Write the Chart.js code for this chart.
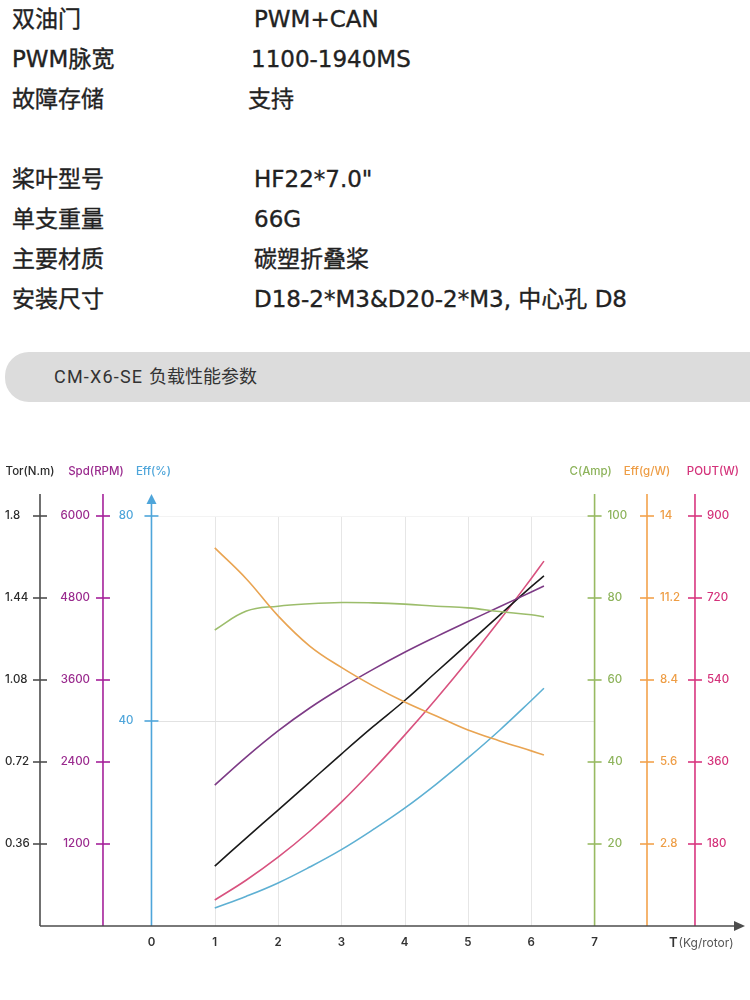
<!DOCTYPE html>
<html lang="zh">
<head>
<meta charset="utf-8">
<title>CM-X6-SE 负载性能参数</title>
<script src="https://cdn.jsdelivr.net/npm/chart.js@4.4.1/dist/chart.umd.min.js"></script>
<style>
  html, body { margin: 0; padding: 0; background: #fff; }
  body { width: 750px; height: 1000px; position: relative; overflow: hidden;
         font-family: "Noto Sans CJK SC", "Noto Sans", sans-serif; color: #222; }
  .row { position: absolute; left: 0; width: 750px; height: 30px; line-height: 30px;
         font-size: 23px; font-family: "DejaVu Sans", "Noto Sans CJK SC", sans-serif;
         -webkit-text-stroke: 0.35px #222; }
  .row span { position: absolute; white-space: nowrap; }
  .row .k { left: 12px; }
  .row .v { left: 254px; }
  .banner { position: absolute; left: 5px; top: 352px; width: 760px; height: 50px;
            background: #dcdcdc; border-radius: 24px 0 0 24px; }
  .banner span { position: absolute; left: 49px; top: 0; line-height: 50px; font-size: 18px;
                 color: #333; font-family: Roboto, "Noto Sans CJK SC", sans-serif; white-space: nowrap; }
  .banner b { font-weight: 400; letter-spacing: 1.2px; }
  #perf { position: absolute; left: 0; top: 430px; }
</style>
</head>
<body>

<div class="row" style="top:4px"><span class="k">双油门</span><span class="v">PWM+CAN</span></div>
<div class="row" style="top:44px"><span class="k">PWM脉宽</span><span class="v" style="left:251px">1100-1940MS</span></div>
<div class="row" style="top:84px"><span class="k">故障存储</span><span class="v" style="left:248px">支持</span></div>
<div class="row" style="top:164px"><span class="k">桨叶型号</span><span class="v">HF22*7.0"</span></div>
<div class="row" style="top:204px"><span class="k">单支重量</span><span class="v">66G</span></div>
<div class="row" style="top:244px"><span class="k">主要材质</span><span class="v">碳塑折叠桨</span></div>
<div class="row" style="top:284px"><span class="k">安装尺寸</span><span class="v">D18-2*M3&amp;D20-2*M3, 中心孔 D8</span></div>

<div class="banner"><span><b>CM-X6-SE </b>负载性能参数</span></div>

<canvas id="perf" width="750" height="570"></canvas>

<script>
// valeurs (poussée en kg par rotor)
const thrust  = [1, 1.5, 2, 2.5, 3, 3.5, 4, 4.5, 5, 5.5, 6, 6.2];
const torque  = [0.263, 0.387, 0.509, 0.632, 0.755, 0.875, 0.99, 1.115, 1.24, 1.365, 1.49, 1.537];
const speed   = [2063, 2475, 2855, 3190, 3485, 3755, 4005, 4235, 4455, 4672, 4888, 4975];
const effPct  = [3.5, 5.8, 8.4, 11.5, 14.9, 18.8, 23.0, 27.7, 32.8, 38.2, 44.0, 46.4];
const current = [72.2, 76.8, 78.0, 78.6, 78.9, 78.8, 78.5, 78.0, 77.6, 76.7, 75.9, 75.4];
const effGW   = [12.91, 11.85, 10.59, 9.56, 8.83, 8.20, 7.65, 7.17, 6.69, 6.32, 5.98, 5.84];
const power   = [57, 101, 151, 208, 272, 343, 419, 499, 583, 671, 763, 801];

// graduations
const thrustTicks = [0, 1, 2, 3, 4, 5, 6, 7];
const torTicks  = [0.36, 0.72, 1.08, 1.44, 1.8];
const spdTicks  = [1200, 2400, 3600, 4800, 6000];
const effTicks  = [40, 80];
const ampTicks  = [20, 40, 60, 80, 100];
const gwTicks   = [2.8, 5.6, 8.4, 11.2, 14];
const poutTicks = [180, 360, 540, 720, 900];

// la zone de tracé monte un peu au-dessus de la dernière graduation
const HEAD = 432 / 410;

// style des axes verticaux (position en unités de poussée)
const axisStyles = [
  { id: 'yTor',  ticks: torTicks,  title: 'Tor(N.m)', at: -1.761, line: '#4d4d4d', text: '#2b2b2b', align: 'left',  dx: -35, tdx: -10 },
  { id: 'ySpd',  ticks: spdTicks,  title: 'Spd(RPM)', at: -0.766, line: '#a5209a', text: '#9a2b8e', align: 'right', dx: -13, tdx: -7 },
  { id: 'yEff',  ticks: effTicks,  title: 'Eff(%)',   at: 0,      line: '#4ea5da', text: '#4ea5da', align: 'right', dx: -18, tdx: 2, arrow: true },
  { id: 'yAmp',  ticks: ampTicks,  title: 'C(Amp)',   at: 7,      line: '#98ba62', text: '#8db35b', align: 'left',  dx: 13,  tdx: -4 },
  { id: 'yGW',   ticks: gwTicks,   title: 'Eff(g/W)', at: 7.828,  line: '#f3a24c', text: '#ee9d45', align: 'left',  dx: 13,  tdx: 0 },
  { id: 'yPout', ticks: poutTicks, title: 'POUT(W)',  at: 8.586,  line: '#d8367f', text: '#d4327a', align: 'left',  dx: 12,  tdx: 18 }
];

const tickFont = '500 11.5px Inter, "Noto Sans", sans-serif';

function series(values) {
  return thrust.map((t, i) => ({ x: t, y: values[i] }));
}

// dessine la grille, les axes et les libellés avec les échelles de Chart.js
const axisDeco = {
  id: 'axisDeco',
  beforeDatasetsDraw(chart) {
    const { ctx, chartArea, scales } = chart;
    const xs = scales.x;
    const yTop = scales.yEff.getPixelForValue(80);
    ctx.save();
    ctx.lineWidth = 1;
    ctx.strokeStyle = '#e6e6e6';
    thrustTicks.filter(t => t > 0 && t < 7).forEach(t => {
      const px = Math.round(xs.getPixelForValue(t)) + 0.5;
      ctx.beginPath();
      ctx.moveTo(px, yTop);
      ctx.lineTo(px, chartArea.bottom);
      ctx.stroke();
    });
    const x0 = xs.getPixelForValue(0) + 7;
    const x7 = xs.getPixelForValue(7);
    ctx.strokeStyle = '#f3f3f3';
    ctx.beginPath();
    ctx.moveTo(x0, Math.round(yTop) + 0.5);
    ctx.lineTo(x7, Math.round(yTop) + 0.5);
    ctx.stroke();
    const y40 = Math.round(scales.yEff.getPixelForValue(40)) + 0.5;
    ctx.strokeStyle = '#e2e2e2';
    ctx.beginPath();
    ctx.moveTo(x0, y40);
    ctx.lineTo(x7, y40);
    ctx.stroke();
    ctx.restore();
  },
  afterDatasetsDraw(chart) {
    const { ctx, chartArea, scales } = chart;
    const xs = scales.x;
    ctx.save();

    axisStyles.forEach(a => {
      const ys = scales[a.id];
      const px = xs.getPixelForValue(a.at);
      ctx.strokeStyle = a.line;
      ctx.lineWidth = 1.6;
      ctx.beginPath();
      ctx.moveTo(px, a.arrow ? chartArea.top + 8 : chartArea.top);
      ctx.lineTo(px, chartArea.bottom);
      ctx.stroke();
      if (a.arrow) {
        ctx.fillStyle = a.line;
        ctx.beginPath();
        ctx.moveTo(px, chartArea.top);
        ctx.lineTo(px - 5, chartArea.top + 10);
        ctx.lineTo(px + 5, chartArea.top + 10);
        ctx.closePath();
        ctx.fill();
      }
      ctx.font = tickFont;
      ctx.fillStyle = a.text;
      ctx.textBaseline = 'middle';
      ctx.textAlign = a.align;
      a.ticks.forEach(v => {
        const py = ys.getPixelForValue(v);
        ctx.beginPath();
        ctx.moveTo(px - 7, py);
        ctx.lineTo(px + 7, py);
        ctx.stroke();
        ctx.fillText(String(v), px + a.dx, py);
      });
      ctx.textAlign = 'center';
      ctx.fillText(a.title, px + a.tdx, chartArea.top - 22);
    });

    // axe horizontal avec flèche
    const yb = chartArea.bottom;
    ctx.strokeStyle = '#4d4d4d';
    ctx.fillStyle = '#4d4d4d';
    ctx.lineWidth = 1.6;
    ctx.beginPath();
    ctx.moveTo(chartArea.left, yb);
    ctx.lineTo(chartArea.right - 2, yb);
    ctx.stroke();
    ctx.beginPath();
    ctx.moveTo(chartArea.right + 4, yb);
    ctx.lineTo(chartArea.right - 7, yb - 5);
    ctx.lineTo(chartArea.right - 7, yb + 5);
    ctx.closePath();
    ctx.fill();

    ctx.font = '600 11.5px Inter, "Noto Sans", sans-serif';
    ctx.fillStyle = '#333';
    ctx.textAlign = 'center';
    ctx.textBaseline = 'middle';
    thrustTicks.forEach(t => {
      ctx.fillText(String(t), xs.getPixelForValue(t), yb + 17);
    });
    ctx.textAlign = 'left';
    ctx.font = '600 13px Inter, "Noto Sans", sans-serif';
    ctx.fillText('T', 669, yb + 17);
    const tw = ctx.measureText('T').width;
    ctx.font = '400 12px Inter, "Noto Sans", sans-serif';
    ctx.fillStyle = '#555';
    ctx.fillText('(Kg/rotor)', 669 + tw + 1, yb + 17);
    ctx.restore();
  }
};

const lineOpts = { borderWidth: 1.6, pointRadius: 0, fill: false, tension: 0.4 };

function yAxis(top) {
  return { type: 'linear', display: false, min: 0, max: top * HEAD };
}

new Chart(document.getElementById('perf'), {
  type: 'line',
  data: {
    datasets: [
      { label: 'Eff(g/W)', data: series(effGW),   yAxisID: 'yGW',   borderColor: '#e9a452', ...lineOpts },
      { label: 'C(Amp)',   data: series(current), yAxisID: 'yAmp',  borderColor: '#9cbd6b', ...lineOpts },
      { label: 'Spd(RPM)', data: series(speed),   yAxisID: 'ySpd',  borderColor: '#7d3b86', ...lineOpts },
      { label: 'Tor(N.m)', data: series(torque),  yAxisID: 'yTor',  borderColor: '#1a1a1a', ...lineOpts },
      { label: 'POUT(W)',  data: series(power),   yAxisID: 'yPout', borderColor: '#d8527f', ...lineOpts },
      { label: 'Eff(%)',   data: series(effPct),  yAxisID: 'yEff',  borderColor: '#5eb0d3', ...lineOpts }
    ]
  },
  options: {
    responsive: false,
    animation: false,
    layout: { padding: { left: 40, right: 9, top: 64, bottom: 74 } },
    scales: {
      x: { type: 'linear', display: false, min: -1.761, max: 9.313 },
      yTor: yAxis(1.8),
      ySpd: yAxis(6000),
      yEff: yAxis(80),
      yAmp: yAxis(100),
      yGW: yAxis(14),
      yPout: yAxis(900)
    },
    plugins: {
      legend: { display: false },
      tooltip: { enabled: false }
    }
  },
  plugins: [axisDeco]
});
</script>
</body>
</html>
